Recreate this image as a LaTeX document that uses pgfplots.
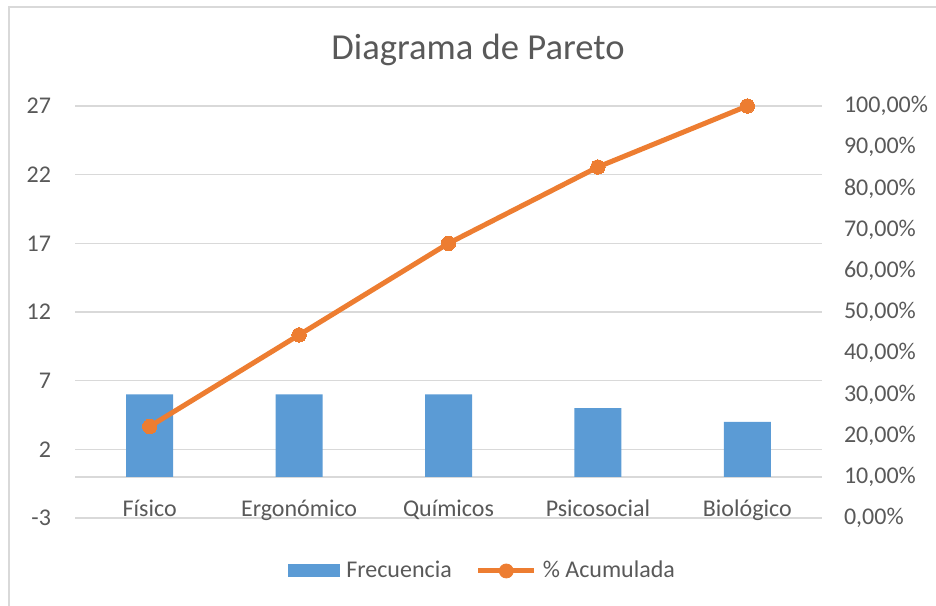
\documentclass[border=0pt]{standalone}
\usepackage{pgfplots}
\pgfplotsset{compat=1.18}
\usepackage{fontspec}
\setmainfont{Carlito}

\definecolor{barblue}{HTML}{5B9BD5}
\definecolor{lineorange}{HTML}{ED7D31}
\definecolor{txtgray}{HTML}{595959}
\definecolor{gridgray}{HTML}{D9D9D9}

\pgfplotsset{
  pareto/.style={
    scale only axis,
    width=373.5pt, height=206pt,
    at={(37.5pt,43.5pt)}, anchor=south west,
    xmin=-0.5, xmax=4.5,
    axis line style={draw=none},
    major tick length=0pt,
    tick label style={font=\fontsize{12}{14}\selectfont, text=txtgray},
  }
}

\begin{document}
\begin{tikzpicture}
\path[use as bounding box] (0,0) rectangle (468pt,302.5pt);
% chart frame (only top and left edges are visible)
\draw[gridgray, line width=0.75pt] (4.5pt,-2pt) -- (4.5pt,299pt) -- (472pt,299pt);
\node[text=txtgray, font=\fontsize{18.3}{22}\selectfont] at (239pt,277.5pt) {Diagrama de Pareto};

\begin{axis}[
  pareto,
  ymin=-3, ymax=27,
  ytick={-3,2,7,12,17,22,27},
  yticklabels={-3,2,7,12,17,22,27},
  yticklabel style={xshift=-8.5pt},
  ymajorgrids,
  grid style={gridgray, line width=0.75pt},
  extra y ticks={0},
  extra y tick labels={},
  extra y tick style={grid=major},
  xtick={0,1,2,3,4},
  xticklabels={Físico,Ergonómico,Químicos,Psicosocial,Biológico},
  xticklabel style={anchor=base, yshift=1pt},
  legend columns=2,
  legend style={at={(0.547,-0.1286)}, anchor=center, draw=none, fill=none,
    font=\fontsize{12}{14}\selectfont, text=txtgray,
    /tikz/every odd column/.append style={column sep=1pt},
    /tikz/every even column/.append style={column sep=10pt}},
  legend cell align=left,
]
\addplot[ybar, bar width=23.5pt, fill=barblue, draw=none,
  legend image code/.code={\fill[barblue] (0pt,-3.25pt) rectangle (26pt,3.25pt);}]
  coordinates {(0,6) (1,6) (2,6) (3,5) (4,4)};
\addlegendentry{Frecuencia}
\addlegendimage{legend image code/.code={
  \draw[lineorange, line width=2.5pt] (0pt,0pt) -- (28pt,0pt);
  \fill[lineorange] (14pt,0pt) circle (3.5pt);}}
\addlegendentry{\% Acumulada}
\end{axis}

\begin{axis}[
  pareto,
  axis x line=none,
  axis y line*=right,
  ymin=0, ymax=100,
  ytick={0,10,20,30,40,50,60,70,80,90,100},
  yticklabels={{0,00\%},{10,00\%},{20,00\%},{30,00\%},{40,00\%},{50,00\%},{60,00\%},{70,00\%},{80,00\%},{90,00\%},{100,00\%}},
  yticklabel style={xshift=7.5pt},
]
\addplot[lineorange, line width=2.5pt, mark=*, mark size=3.6pt,
  mark options={fill=lineorange, draw=lineorange, line width=0pt}]
  coordinates {(0,22.22) (1,44.44) (2,66.67) (3,85.19) (4,100)};
\end{axis}
\end{tikzpicture}
\end{document}
